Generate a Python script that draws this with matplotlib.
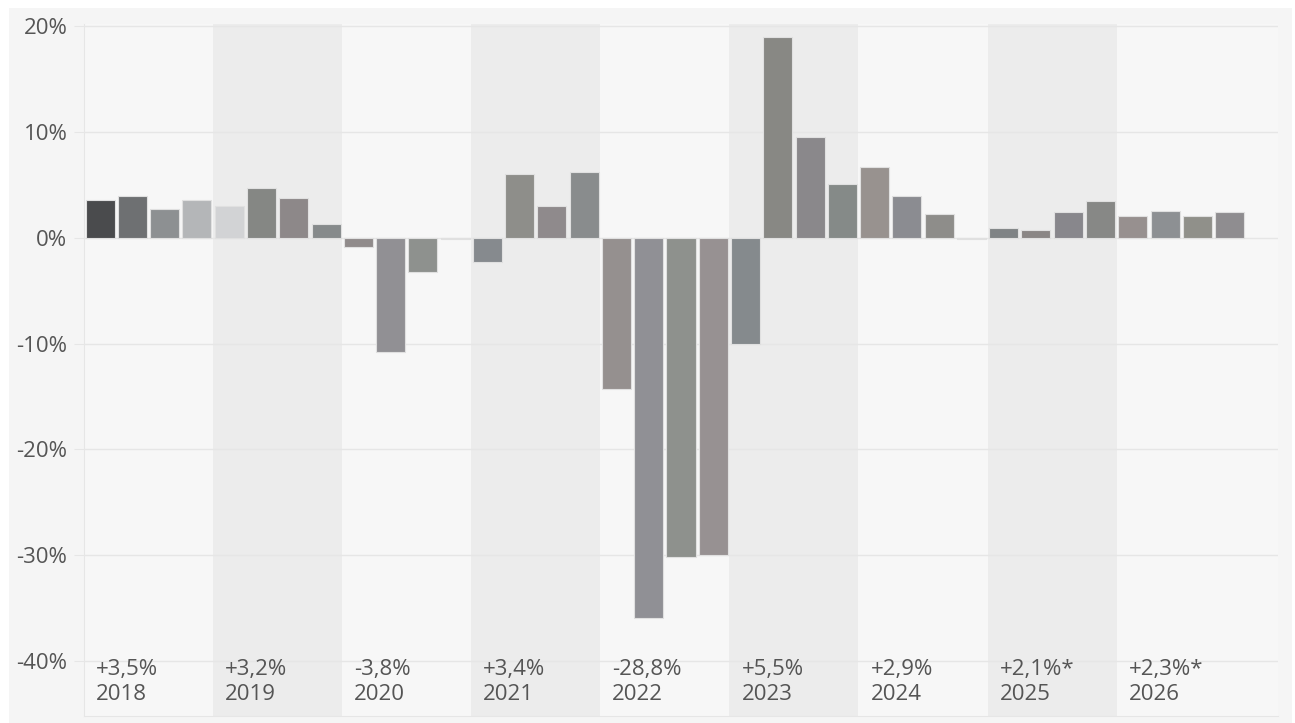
import matplotlib
matplotlib.use("Agg")
import matplotlib.pyplot as plt
from matplotlib.patches import Rectangle
from matplotlib.transforms import blended_transform_factory

years = ["2018", "2019", "2020", "2021", "2022", "2023", "2024", "2025", "2026"]
year_labels = ["+3,5%", "+3,2%", "-3,8%", "+3,4%", "-28,8%", "+5,5%", "+2,9%", "+2,1%*", "+2,3%*"]
quarter_values = [
    3.6, 3.9, 2.7, 3.6,
    3.0, 4.7, 3.75, 1.3,
    -0.9, -10.8, -3.2, -0.1,
    -2.3, 6.0, 3.0, 6.2,
    -14.3, -35.9, -30.2, -30.0,
    -10.0, 19.0, 9.55, 5.1,
    6.7, 3.9, 2.2, -0.1,
    0.9, 0.7, 2.4, 3.5,
    2.05, 2.55, 2.05, 2.4,
]
bar_colors = [
    "#4a4b4d", "#6e7072", "#8d9092", "#b4b6b8",
    "#d2d3d5", "#858784", "#8d8889", "#868a8b",
    "#908b8b", "#919094", "#8e918e", "#c8c8c8",
    "#868a8e", "#8e8e8a", "#8f8a8c", "#898c8d",
    "#95908f", "#909095", "#8e918d", "#979192",
    "#858a8d", "#888884", "#8a888b", "#858a88",
    "#98928f", "#8b8c91", "#8e8d8a", "#c8c8c8",
    "#7f8385", "#8a8685", "#88878c", "#878886",
    "#97908f", "#8d9093", "#90908a", "#8f8d90",
]
y_ticks = [20, 10, 0, -10, -20, -30, -40]
y_ticklabels = ["20%", "10%", "0%", "-10%", "-20%", "-30%", "-40%"]

plt.rcParams['font.family'] = ['Open Sans', 'DejaVu Sans']
text_color = "#555555"
fs = 16

W, H = 1295, 723
fig = plt.figure(figsize=(W / 100, H / 100), dpi=100)
fig.patch.set_facecolor("white")
fig.patches.append(Rectangle((9 / W, 0), (1292 - 9) / W, (H - 8) / H,
                             transform=fig.transFigure, facecolor="#f5f5f5",
                             edgecolor="none", zorder=-10))

left, right, top, bottom = 84, 1278, 24, 716
ax = fig.add_axes([left / W, 1 - bottom / H, (right - left) / W, (bottom - top) / H])
ax.set_facecolor("#f7f7f7")
ax.set_xlim(-0.5, 36.5)
ax.set_ylim(-45.2, 20.2)

# alternating year bands
for k in range(len(years)):
    if k % 2 == 1:
        ax.axvspan(4 * k - 0.5, 4 * k + 3.5, color="#ececec", zorder=0, lw=0)

# grid lines
for t in y_ticks:
    ax.axhline(t, color="#e6e6e6", lw=1, zorder=1)

x = list(range(len(quarter_values)))
ax.bar(x, quarter_values, width=0.9, color=bar_colors,
       edgecolor="#e0e0e0", linewidth=0.8, zorder=3)

ax.set_yticks(y_ticks)
ax.set_yticklabels(y_ticklabels, fontsize=fs, color=text_color)
ax.tick_params(axis="y", length=7, color="#e6e6e6", pad=5)
ax.set_xticks([])

for s in ["top", "right"]:
    ax.spines[s].set_visible(False)
ax.spines["left"].set_color("#e6e6e6")
ax.spines["bottom"].set_color("#e6e6e6")

tr = blended_transform_factory(ax.transData, ax.transAxes)
for k, (yr, lab) in enumerate(zip(years, year_labels)):
    xs = 4 * k - 0.5 + 12 / 32.25
    ax.text(xs, (bottom - 670) / (bottom - top), lab, transform=tr, ha="left", va="center",
            fontsize=fs, color=text_color, zorder=5)
    ax.text(xs, (bottom - 694) / (bottom - top), yr, transform=tr, ha="left", va="center",
            fontsize=fs, color=text_color, zorder=5)

fig.savefig("out.png", dpi=100, facecolor=fig.get_facecolor())
